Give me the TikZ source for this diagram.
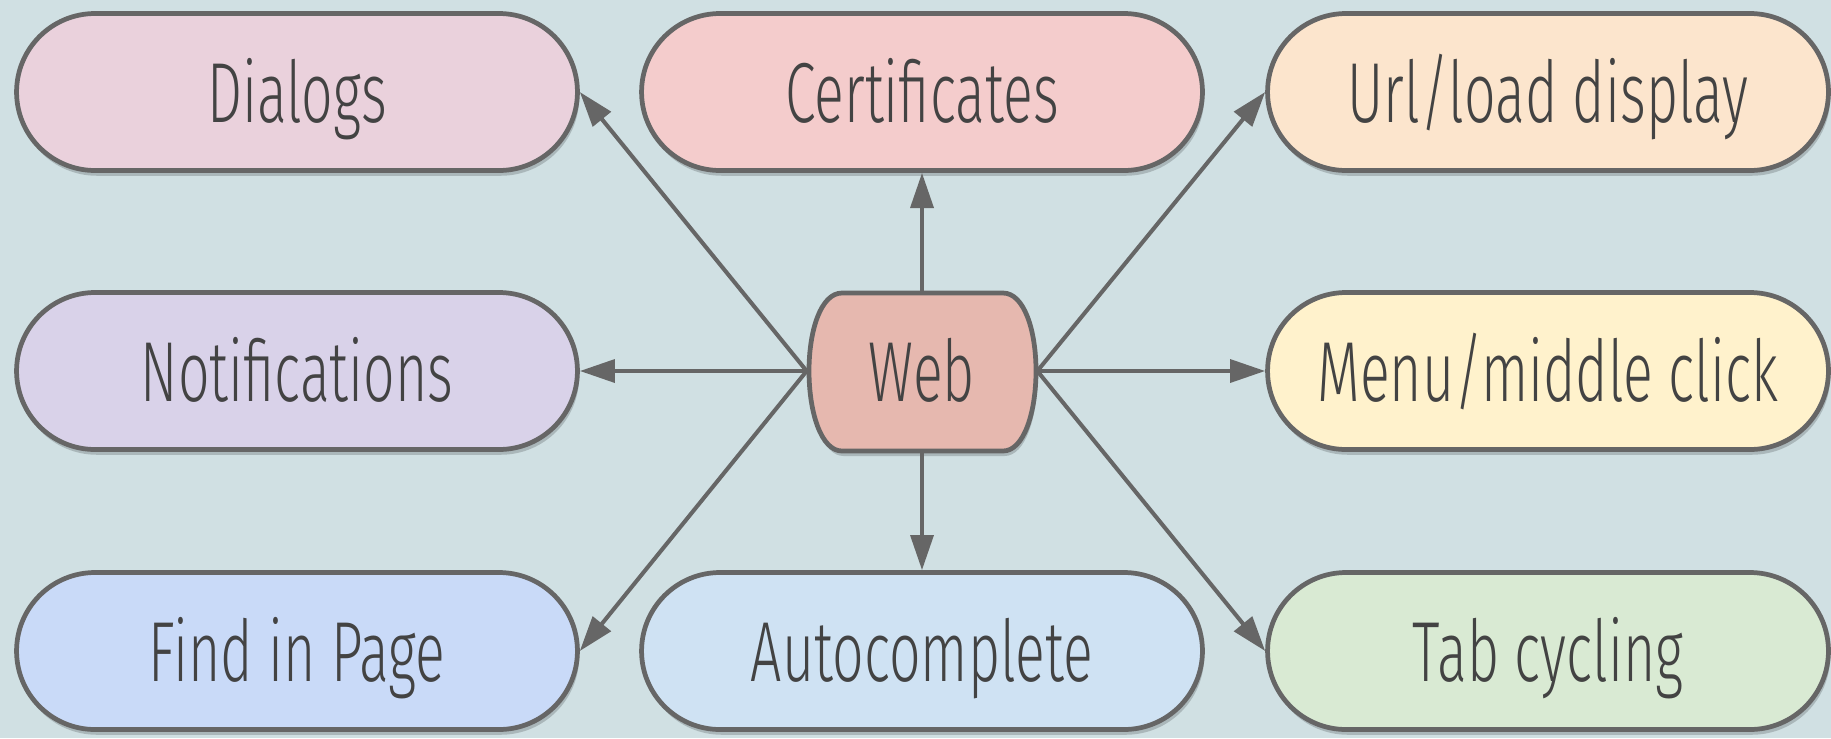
\documentclass[tikz,border=0pt]{standalone}
\usepackage{fontspec}
\setmainfont[FakeStretch=0.65]{Fira Sans Light}
\usetikzlibrary{arrows.meta,shadows}
\definecolor{bg}{HTML}{D0E0E3}
\definecolor{edge}{HTML}{666666}
\definecolor{txt}{HTML}{434343}
\definecolor{cDialogs}{HTML}{EAD1DC}
\definecolor{cCert}{HTML}{F4CCCC}
\definecolor{cUrl}{HTML}{FCE5CD}
\definecolor{cNotif}{HTML}{D9D2E9}
\definecolor{cWeb}{HTML}{E6B8AF}
\definecolor{cMenu}{HTML}{FFF2CC}
\definecolor{cFind}{HTML}{C9DAF8}
\definecolor{cAuto}{HTML}{CFE2F3}
\definecolor{cTab}{HTML}{D9EAD3}
\begin{document}
\begin{tikzpicture}[x=0.02cm,y=-0.02cm,
  label text/.style={text=txt, font=\fontsize{48.5}{58}\selectfont,
    text height=35pt, text depth=0pt},
  pill/.style={label text, draw=edge, line width=2.7pt, rounded corners=1.57cm,
    minimum width=11.22cm, minimum height=3.14cm, inner sep=0pt,
    drop shadow={shadow xshift=1pt, shadow yshift=-3pt, opacity=0.18, fill=black}},
  conn/.style={draw=edge, line width=2.3pt, -{Triangle[length=20pt,width=13pt]}}]
\fill[bg] (0,0) rectangle (1831,738);
\useasboundingbox (0,0) rectangle (1831,738);

\node[pill, fill=cDialogs] (dialogs) at (297,92) {Dialogs};
\node[pill, fill=cCert] (cert) at (922,92) {Certificates};
\node[pill, fill=cUrl] (url) at (1548,92) {Url/load display};
\node[pill, fill=cNotif] (notif) at (297,371) {Notifications};
\node[pill, fill=cMenu] (menu) at (1548,371) {Menu/middle click};
\node[pill, fill=cFind] (find) at (297,651) {Find in Page};
\node[pill, fill=cAuto] (auto) at (922,651) {Autocomplete};
\node[pill, fill=cTab] (tab) at (1548,651) {Tab cycling};

% Web node (barrel shape)
\fill[black, opacity=0.18, shift={(1.5,5)}]
  (842,293) -- (1003,293) .. controls (1024,293) and (1036,330) .. (1036,371)
  .. controls (1036,412) and (1024,451) .. (1003,451) -- (842,451)
  .. controls (821,451) and (809,412) .. (809,371)
  .. controls (809,330) and (821,293) .. (842,293) -- cycle;
\draw[draw=edge, line width=2.7pt, fill=cWeb]
  (842,293) -- (1003,293) .. controls (1024,293) and (1036,330) .. (1036,371)
  .. controls (1036,412) and (1024,451) .. (1003,451) -- (842,451)
  .. controls (821,451) and (809,412) .. (809,371)
  .. controls (809,330) and (821,293) .. (842,293) -- cycle;
\node[label text, minimum width=4.6cm, minimum height=3.16cm, inner sep=0pt] (web) at (922,371) {Web};

\draw[conn] (web.west) -- (dialogs.east);
\draw[conn] (web.west) -- (notif.east);
\draw[conn] (web.west) -- (find.east);
\draw[conn] (web.north) -- (cert.south);
\draw[conn] (web.south) -- (auto.north);
\draw[conn] (web.east) -- (url.west);
\draw[conn] (web.east) -- (menu.west);
\draw[conn] (web.east) -- (tab.west);
\end{tikzpicture}
\end{document}
